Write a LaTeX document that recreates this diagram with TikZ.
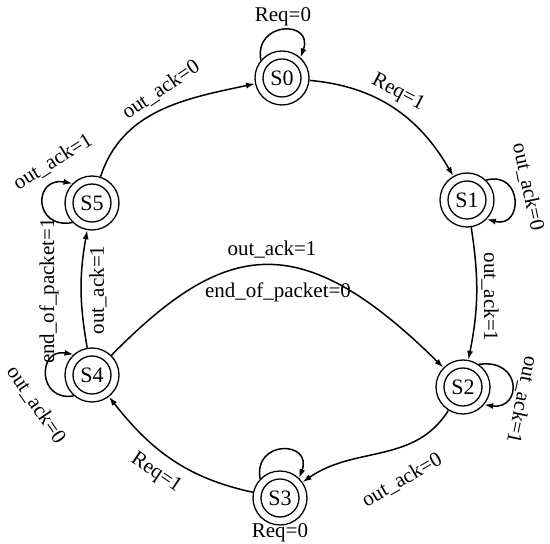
\documentclass[tikz,border=0pt]{standalone}
\usepackage{fontspec}
\setmainfont{Liberation Serif}
\usetikzlibrary{arrows.meta}
\begin{document}
\begin{tikzpicture}[x=1pt,y=1pt,
  state/.style={circle,draw,line width=1.3pt,minimum size=54pt,inner sep=0pt,
    font=\fontsize{22}{24}\selectfont,
    path picture={\draw[line width=1.3pt] (path picture bounding box.center) circle (19pt);}},
  tr/.style={line width=1.5pt,-{Latex[length=9pt,width=6pt]}},
  lab/.style={font=\fontsize{21}{23}\selectfont,inner sep=0pt}]
\useasboundingbox (0,0) rectangle (550,544);

\node[state] (S0) at (282,466) {S0};
\node[state] (S1) at (467,344) {S1};
\node[state] (S2) at (463,157) {S2};
\node[state] (S3) at (280,46) {S3};
\node[state] (S4) at (92,169) {S4};
\node[state] (S5) at (92,341) {S5};

% self loops
\draw[tr] (S0.140) .. controls +(100:40) and +(70:40) .. (S0.48);
\draw[tr] (S1.46) .. controls +(15:38) and +(-15:38) .. (S1.-44);
\draw[tr] (S2.55) .. controls +(8:44) and +(-8:38) .. (S2.-40);
\draw[tr] (S3.136) .. controls +(100:40) and +(70:40) .. (S3.46);
\draw[tr] (S4.229) .. controls +(190:37) and +(170:37) .. (S4.132);
\draw[tr] (S5.225) .. controls +(190:40) and +(170:40) .. (S5.135);

% transitions
\draw[tr] (S5) to[out=72,in=192] (S0);
\draw[tr] (S0) to[out=-5,in=120] (S1);
\draw[tr] (S1) to[bend left=10] (S2);
\draw[tr] (S2) to[out=238,in=35] (S3);
\draw[tr] (S3) to[out=168,in=-52] (S4);
\draw[tr] (S4) to[bend left=10] (S5);
\draw[tr] (S4) .. controls (225,304) and (300,318) .. (S2);

% labels
\node[lab] (l00) at (283,527) {Req=0};
\node[lab,rotate=-28] (l01) at (398,451) {Req=1};
\node[lab,rotate=-78] (l11) at (528,357) {out\_ack=0};
\node[lab,rotate=-90] (l12) at (490,247) {out\_ack=1};
\node[lab,rotate=-102] (l22) at (522,144) {out\_ack=1};
\node[lab,rotate=30] (l23) at (402,64) {out\_ack=0};
\node[lab] (l33) at (280,11) {Req=0};
\node[lab,rotate=-34] (l34) at (156,71) {Req=1};
\node[lab,rotate=-56] (l44) at (36,139) {out\_ack=0};
\node[lab,rotate=90] (l45a) at (49,253) {end\_of\_packet=1};
\node[lab,rotate=90] (l45b) at (98,254) {out\_ack=1};
\node[lab,rotate=32] (l55) at (53,382) {out\_ack=1};
\node[lab,rotate=34] (l50) at (161,454) {out\_ack=0};
\node[lab] (l42a) at (272,294) {out\_ack=1};
\node[lab] (l42b) at (278,252) {end\_of\_packet=0};
\end{tikzpicture}
\end{document}
